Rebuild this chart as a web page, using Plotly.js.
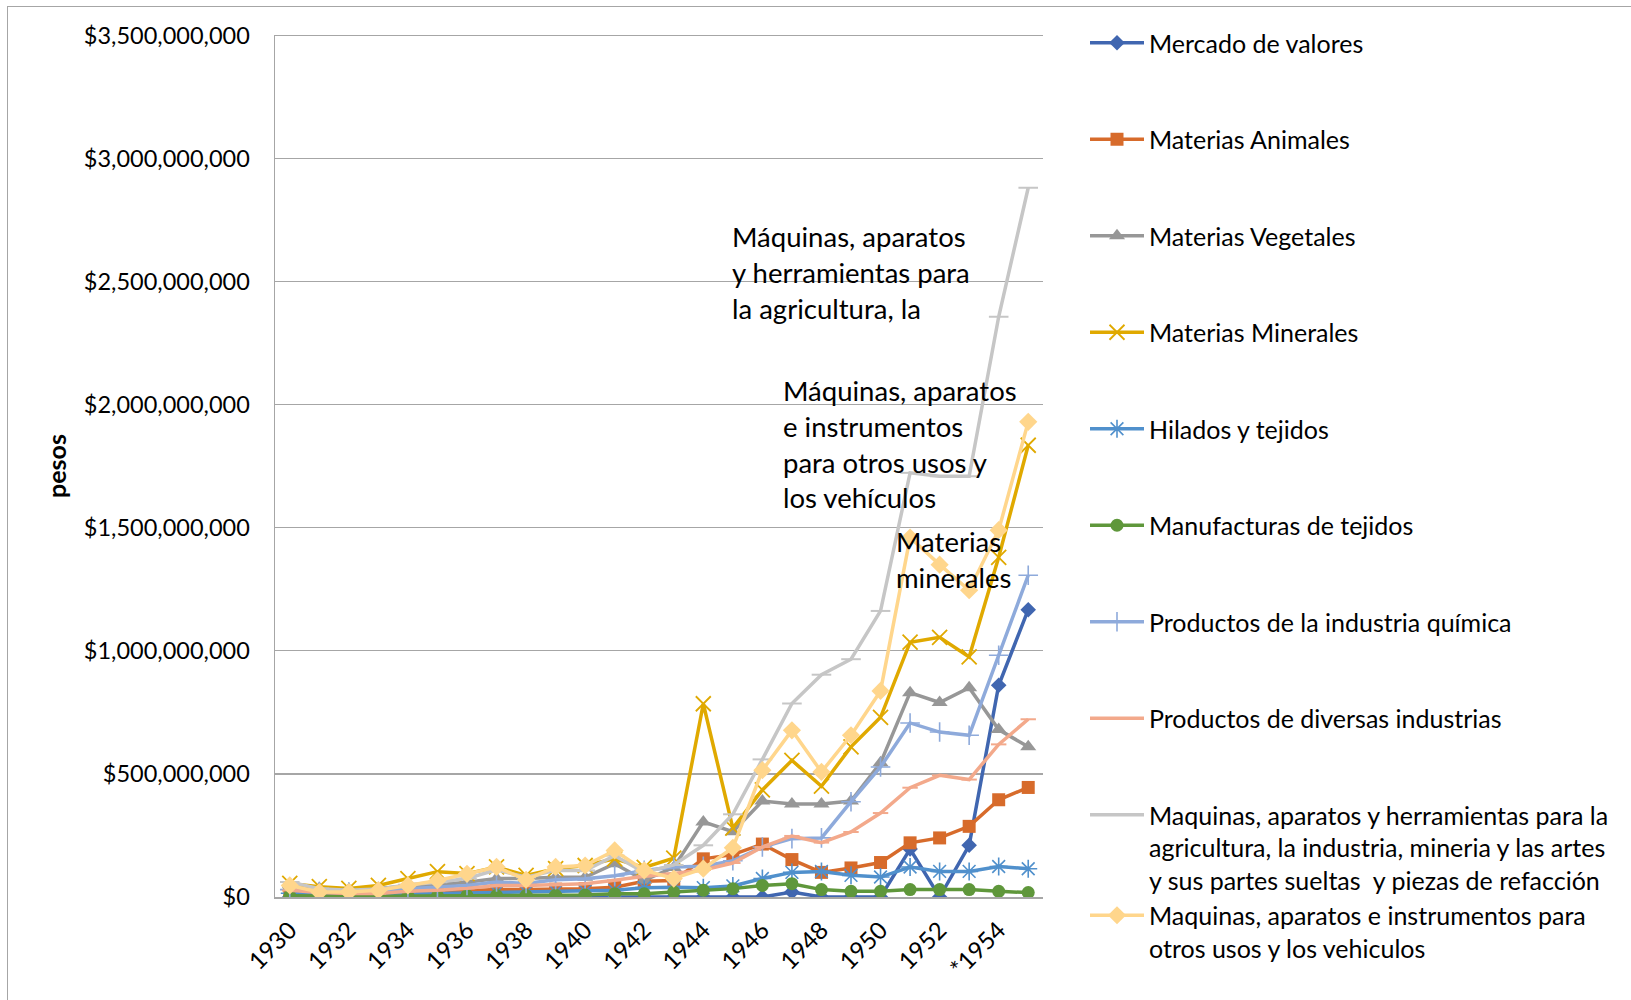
<!DOCTYPE html>
<html>
<head>
<meta charset="utf-8">
<script src="https://cdn.plot.ly/plotly-3.0.1.min.js"></script>
<style>
  html, body { margin: 0; padding: 0; background: #ffffff; overflow: hidden; }
  #frame { position: absolute; left: 7px; top: 6px; width: 1700px; height: 1100px; border: 1.5px solid #a6a6a6; box-sizing: border-box; pointer-events: none; }
  #chart { position: absolute; left: 0; top: 0; width: 1631px; height: 1000px; }
</style>
</head>
<body>
<div id="chart"></div>
<div id="frame"></div>
<script>
// Categories (years)
const years = ["1930","1931","1932","1933","1934","1935","1936","1937","1938","1939",
  "1940","1941","1942","1943","1944","1945","1946","1947","1948","1949",
  "1950","1951","1952","1953","*1954","*1955"];
const tickYears = ["1930","1932","1934","1936","1938","1940","1942","1944","1946","1948","1950","1952","*1954"];

// Values in millions of pesos
const mercadoValores = [0,0,0,0,0,0,0,0,0,0,0,0,0,0,0,0,0,20,0,0,0,195,0,210,860,1167];
const materiasAnimales = [20,12,10,12,15,20,25,30,30,32,34,40,64,67,155,172,215,152,100,118,140,220,240,287,395,445];
const materiasVegetales = [50,35,30,35,45,50,60,75,75,80,80,135,68,120,305,265,390,378,378,390,545,830,790,850,680,610];
const materiasMinerales = [55,42,35,47,75,103,95,122,88,115,128,155,120,158,785,280,435,555,450,610,730,1035,1055,975,1380,1835];
const hiladosTejidos = [15,12,10,10,12,15,17,20,20,22,24,27,38,40,38,45,75,100,104,88,81,122,104,104,124,115];
const manufacturasTejidos = [5,3,3,3,4,5,6,6,6,7,8,13,13,20,27,34,47,54,30,23,23,30,30,30,23,18];
const industriaQuimica = [30,22,20,22,34,40,47,61,55,70,74,86,108,122,125,147,203,237,240,387,528,707,670,657,982,1307];
const diversasIndustrias = [27,18,14,14,23,27,35,47,47,51,54,68,84,95,110,138,203,248,221,264,341,444,494,477,620,722];
const maquinasAgricultura = [61,34,27,32,50,60,75,110,80,108,108,168,100,130,210,336,559,786,903,966,1162,1723,1709,1709,2357,2881];
const maquinasOtros = [47,20,20,27,47,67,94,122,70,122,128,189,108,75,115,200,515,677,508,657,837,1460,1350,1246,1490,1930];

const seriesNames = [
  "Mercado de valores",
  "Materias Animales",
  "Materias Vegetales",
  "Materias Minerales",
  "Hilados y tejidos",
  "Manufacturas de tejidos",
  "Productos de la industria química",
  "Productos de diversas industrias",
  "Maquinas, aparatos y herramientas para la<br>agricultura, la industria, mineria y las artes<br>y sus partes sueltas\u00a0 y piezas de refacción",
  "Maquinas, aparatos e instrumentos para<br>otros usos y los vehiculos"
];
const seriesValues = [mercadoValores, materiasAnimales, materiasVegetales, materiasMinerales,
  hiladosTejidos, manufacturasTejidos, industriaQuimica, diversasIndustrias, maquinasAgricultura, maquinasOtros];

const styles = [
  {color: "#4066b0", symbol: "diamond", size: 12, lw: 0},
  {color: "#d76b2b", symbol: "square", size: 13, lw: 0},
  {color: "#979797", symbol: "triangle-up", size: 14, lw: 0},
  {color: "#e0a900", symbol: "x-thin-open", size: 15, lw: 1.8},
  {color: "#5090cc", symbol: "asterisk-open", size: 15, lw: 1.6},
  {color: "#5f973b", symbol: "circle", size: 13, lw: 0},
  {color: "#8eaadb", symbol: "cross-thin-open", size: 14, lw: 1.6},
  {color: "#f3a98b", symbol: "line-ew-open", size: 11, lw: 2},
  {color: "#c6c6c6", symbol: "line-ew-open", size: 14, lw: 2},
  {color: "#ffd68c", symbol: "diamond", size: 14, lw: 0}
];
const groups = ["g1","g2","g3","g4","g5","g6","g7","g8","g9","g9"];

const FONT = "Lato, 'Open Sans', sans-serif";
const Y_MAX = 3.5e9;

const traces = seriesValues.map((vals, k) => ({
  type: "scatter",
  mode: "lines+markers",
  name: seriesNames[k],
  x: years,
  y: vals.map(v => v * 1e6),
  legendgroup: groups[k],
  line: {color: styles[k].color, width: 3.5},
  marker: {
    symbol: styles[k].symbol,
    size: styles[k].size,
    color: styles[k].color,
    line: {width: styles[k].lw, color: styles[k].color}
  },
  hoverinfo: "x+y+name"
}));

const layout = {
  width: 1631,
  height: 1000,
  paper_bgcolor: "#ffffff",
  plot_bgcolor: "#ffffff",
  font: {family: FONT, color: "#000000", size: 22},
  margin: {l: 275, r: 588, t: 35, b: 103, pad: 0},
  showlegend: true,
  legend: {
    xref: "container", yref: "container",
    x: 1085 / 1631, y: 1 - 20 / 1000,
    xanchor: "left", yanchor: "top",
    font: {family: FONT, size: 25, color: "#000000"},
    tracegroupgap: 61,
    valign: "top",
    itemwidth: 54,
    maxheight: 1,
    bgcolor: "rgba(0,0,0,0)",
    traceorder: "grouped"
  },
  xaxis: {
    type: "category",
    range: [-0.5, 25.5],
    tickmode: "array",
    tickvals: tickYears,
    ticktext: tickYears,
    tickangle: -45,
    tickfont: {family: FONT, size: 24, color: "#000000"},
    showgrid: false,
    showline: true,
    linecolor: "#a6a6a6",
    linewidth: 1.5,
    ticks: "",
    ticklabelstandoff: 8,
    zeroline: false
  },
  yaxis: {
    range: [0, 3.5015e9],
    tickmode: "linear",
    tick0: 0,
    dtick: 5e8,
    tickformat: ",",
    tickprefix: "$",
    tickfont: {family: FONT, size: 23.5, color: "#000000"},
    showgrid: true,
    gridcolor: "#a6a6a6",
    gridwidth: 1.3,
    showline: true,
    linecolor: "#a6a6a6",
    linewidth: 1.5,
    zeroline: false,
    ticks: "",
    ticklabelstandoff: 19,
    title: {text: "<b>pesos</b>", font: {family: FONT, size: 25, color: "#000000"}, standoff: 10}
  },
  shapes: [
    {type: "line", xref: "paper", yref: "y", x0: 0, x1: 1, y0: Y_MAX, y1: Y_MAX,
     line: {color: "#a6a6a6", width: 1.3}, layer: "below"}
  ],
  annotations: [
    {xref: "paper", yref: "paper", x: 0.592, y: 0.7247, xanchor: "left", yanchor: "middle", align: "left",
     showarrow: false, font: {family: FONT, size: 27.5, color: "#000000"},
     text: "Máquinas, aparatos<br>y herramientas para<br>la agricultura, la"},
    {xref: "paper", yref: "paper", x: 0.659, y: 0.5255, xanchor: "left", yanchor: "middle", align: "left",
     showarrow: false, font: {family: FONT, size: 27.5, color: "#000000"},
     text: "Máquinas, aparatos<br>e instrumentos<br>para otros usos y<br>los vehículos"},
    {xref: "paper", yref: "paper", x: 0.806, y: 0.3914, xanchor: "left", yanchor: "middle", align: "left",
     showarrow: false, font: {family: FONT, size: 27.5, color: "#000000"},
     text: "Materias<br>minerales"}
  ]
};

Plotly.newPlot("chart", traces, layout, {displayModeBar: false, staticPlot: true});
</script>
</body>
</html>
